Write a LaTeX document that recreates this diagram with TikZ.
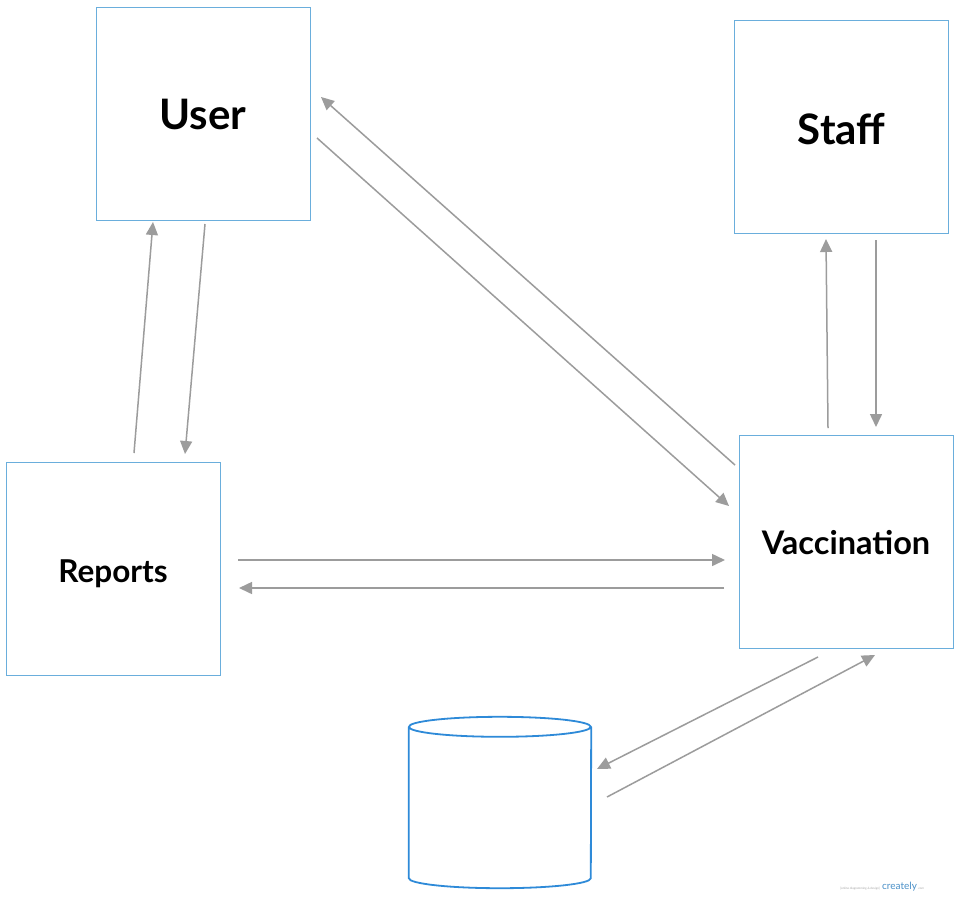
\documentclass[tikz,border=0pt]{standalone}
\usepackage{fontspec}
\setmainfont{Lato}
\usetikzlibrary{arrows.meta}
\definecolor{boxblue}{HTML}{6AAEDC}
\definecolor{dbblue}{HTML}{2E8AD8}
\definecolor{arrgray}{HTML}{9C9C9C}
\definecolor{crblue}{HTML}{4A90C8}
\tikzset{
  entity/.style={draw=boxblue, line width=1pt, minimum width=214pt, minimum height=213pt, inner sep=0pt, text depth=0pt, font=\bfseries},
  flow/.style={draw=arrgray, line width=1.5pt, -{Triangle[length=13pt,width=12pt]}, color=arrgray},
}
\begin{document}
\begin{tikzpicture}[x=1pt,y=-1pt]
\useasboundingbox[fill=white] (0,0) rectangle (960,897);
\node[entity, text height=32.1pt] (user) at (203,113.5) {\fontsize{42}{48}\selectfont User};
\node[entity, text height=34.1pt] (staff) at (841.5,127) {\fontsize{42}{48}\selectfont Staff};
\node[entity, text height=26.6pt] (reports) at (113,569) {\fontsize{31.5}{36}\selectfont Reports};
\node[entity, text height=24.3pt] (vacc) at (846,542) {\fontsize{32.5}{36}\selectfont Vaccination};
\node[minimum width=182pt, minimum height=171pt, inner sep=0pt] (db) at (500,802.5) {};
\draw[dbblue, line width=1.8pt]
  ([yshift=-10]db.north west) coordinate (dbtl)
  ([yshift=-10]db.north east) coordinate (dbtr)
  ([yshift=10]db.south west) coordinate (dbbl)
  ([yshift=10]db.south east) coordinate (dbbr)
  (dbtl) arc[start angle=180, end angle=-180, x radius=91, y radius=10]
  (dbtl) -- (dbbl) arc[start angle=180, end angle=0, x radius=91, y radius=10] -- (dbtr);
% arrow endpoints
\coordinate (a1s) at (134,453); \coordinate (a1e) at (153,222);
\coordinate (a2s) at (205,224); \coordinate (a2e) at (185,454);
\coordinate (a3s) at (735,465); \coordinate (a3e) at (321,97);
\coordinate (a4s) at (317,138); \coordinate (a4e) at (729,506);
\coordinate (a5s) at (828,428); \coordinate (a5e) at (826,239);
\coordinate (a6s) at (876,240); \coordinate (a6e) at (876,427);
\coordinate (a7s) at (238,560); \coordinate (a7e) at (725,560);
\coordinate (a8s) at (724,588); \coordinate (a8e) at (239,588);
\coordinate (a9s) at (818,657); \coordinate (a9e) at (597,769);
\coordinate (a10s) at (607,797); \coordinate (a10e) at (875,655);
\draw[flow] (a1s) -- (a1e);
\draw[flow] (a2s) -- (a2e);
\draw[flow] (a3s) -- (a3e);
\draw[flow] (a4s) -- (a4e);
\draw[flow] (a5s) -- (a5e);
\draw[flow] (a6s) -- (a6e);
\draw[flow] (a7s) -- (a7e);
\draw[flow] (a8s) -- (a8e);
\draw[flow] (a9s) -- (a9e);
\draw[flow] (a10s) -- (a10e);
\node[anchor=base east, inner sep=0pt, text=gray!70, font=\fontsize{3}{3.5}\selectfont] (wm1) at (880,889) {[online diagramming \& design]};
\node[anchor=base west, inner sep=0pt, text=crblue, font=\fontsize{10}{11}\selectfont] (wm2) at (882,889) {creately};
\node[anchor=base west, inner sep=0pt, text=gray!70, font=\fontsize{3}{3.5}\selectfont] (wm3) at (wm2.base east) {\,.com};
\end{tikzpicture}
\end{document}
